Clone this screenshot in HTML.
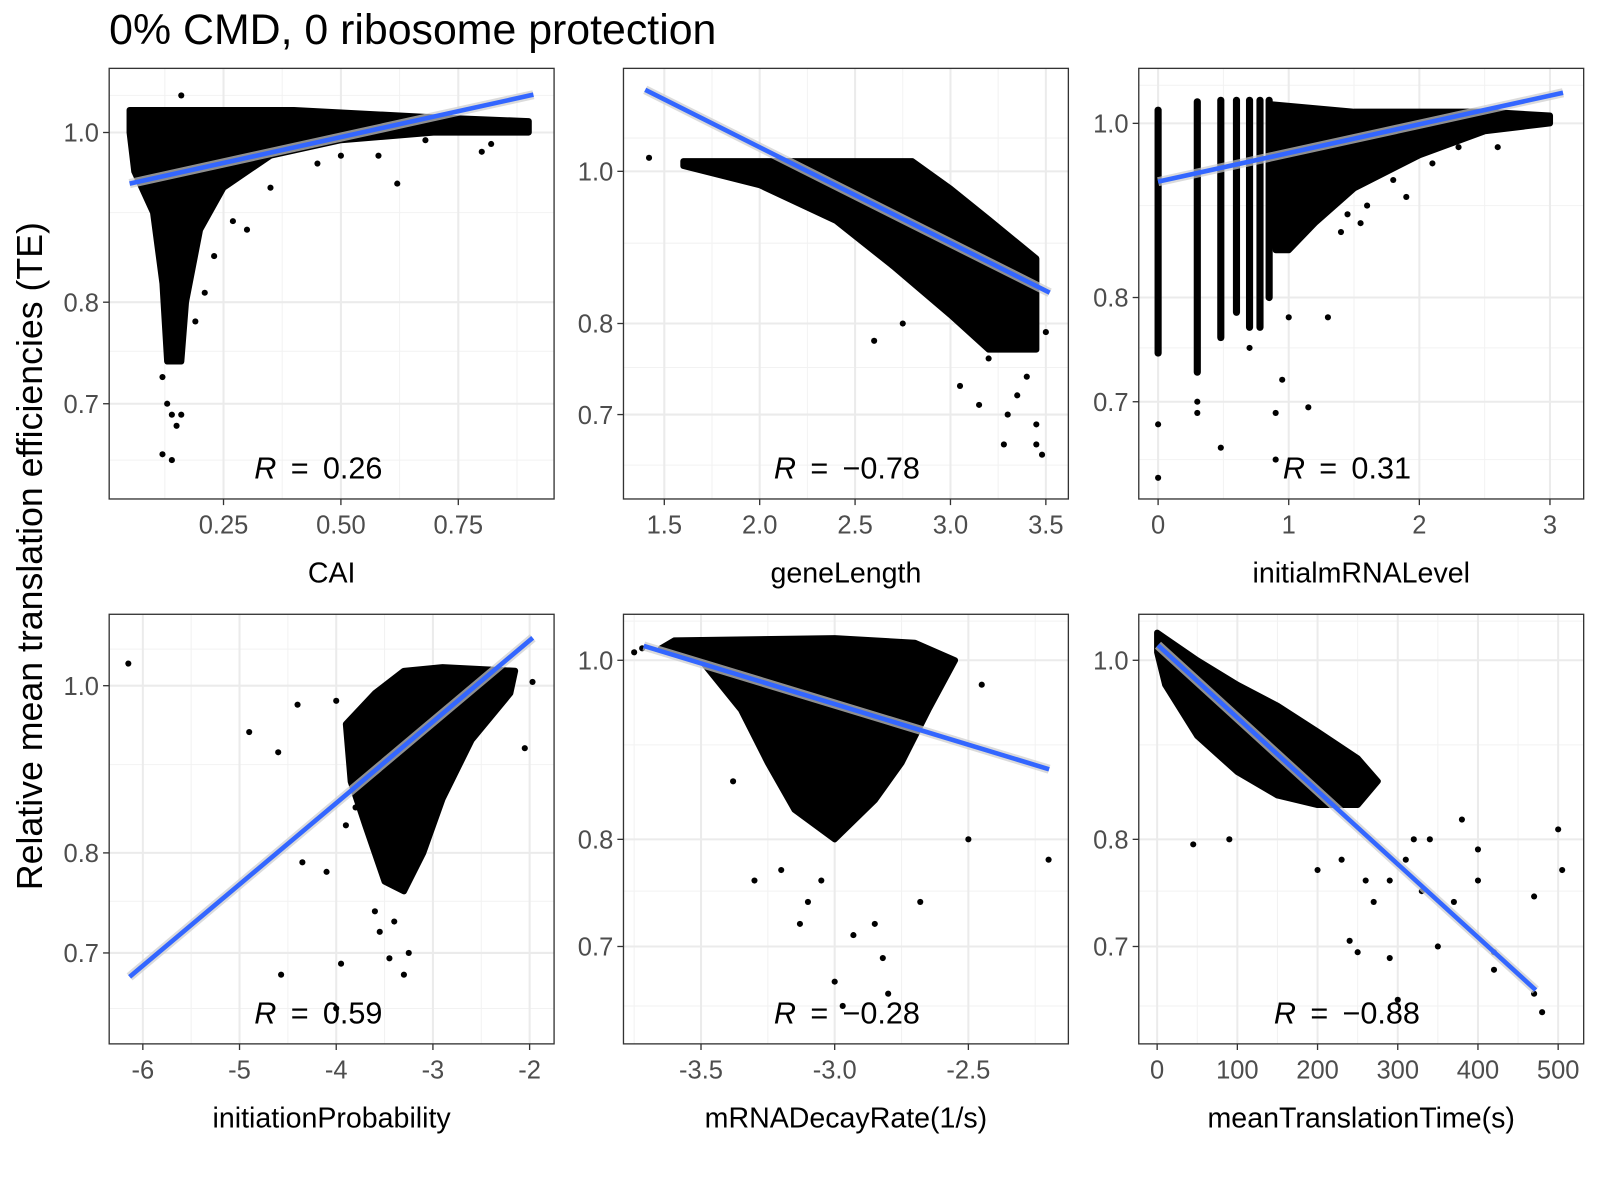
<!DOCTYPE html>
<html><head><meta charset="utf-8"><style>
html,body{margin:0;padding:0;background:#fff}
svg{display:block}
text{font-family:"Liberation Sans",sans-serif}
</style></head><body>
<svg id="chart" width="1600" height="1200" viewBox="0 0 1568 1176">
<rect x="0" y="0" width="1568" height="1176" fill="#fff"/>
<text x="107" y="43" font-size="42" fill="#000">0% CMD, 0 ribosome protection</text>
<text transform="translate(41,545) rotate(-90)" text-anchor="middle" font-size="35" fill="#000">Relative mean translation efficiencies (TE)</text>
</svg>
<script>
// ---- data ----
const panelNames = ["CAI","geneLength","initialmRNALevel","initiationProbability","mRNADecayRate(1/s)","meanTranslationTime(s)"];
const xDomains = [[0.0065,0.954],[1.286,3.618],[-0.148,3.258],[-6.348,-1.747],[-3.79,-2.126],[-22.9,531.8]];
const yDomains = [[0.6176,1.088],[0.6185,1.163],[0.618,1.073],[0.620,1.100],[0.620,1.059],[0.620,1.059]];
const xTicks = [[0.25,0.5,0.75],[1.5,2,2.5,3,3.5],[0,1,2,3],[-6,-5,-4,-3,-2],[-3.5,-3,-2.5],[0,100,200,300,400,500]];
const xTickLabels = [["0.25","0.50","0.75"],["1.5","2.0","2.5","3.0","3.5"],["0","1","2","3"],["-6","-5","-4","-3","-2"],["-3.5","-3.0","-2.5"],["0","100","200","300","400","500"]];
const yTicks = [0.7,0.8,1.0];
const yTickLabels = ["0.7","0.8","1.0"];
const yMinor = [0.65,0.75,0.9,1.05];
const rValues = ["0.26","\u22120.78","0.31","0.59","\u22120.28","\u22120.88"];
// regression line endpoints
const fitX = [[0.05,0.91],[1.4,3.52],[0,3.1],[-6.137,-1.968],[-3.714,-2.198],[1,472]];
const fitY = [[0.935,1.051],[1.127,0.837],[0.928,1.040],[0.678,1.066],[1.018,0.873],[1.019,0.663]];
// dense point clouds (outline of overlapping points)
const cloudX = [
 [0.05,0.4,0.7,0.9,0.9,0.7,0.5,0.35,0.25,0.2,0.17,0.16,0.13,0.12,0.1,0.06,0.05],
 [1.6,2.8,3.0,3.2,3.45,3.45,3.2,3.0,2.7,2.4,2.0,1.6],
 [0.85,1.5,2.5,3.0,3.0,2.5,2.0,1.5,1.2,1.0,0.9],
 [-3.9,-3.6,-3.3,-2.9,-2.15,-2.2,-2.6,-2.9,-3.1,-3.3,-3.5,-3.7,-3.85],
 [-3.6,-3.0,-2.7,-2.55,-2.65,-2.75,-2.85,-3.0,-3.15,-3.25,-3.35,-3.5,-3.65],
 [0,50,100,150,200,250,275,250,200,150,100,50,10,0]];
const cloudY = [
 [1.03,1.03,1.02,1.015,1.0,1.0,0.99,0.97,0.93,0.88,0.80,0.74,0.74,0.82,0.9,0.95,1.0],
 [1.015,1.015,0.975,0.932,0.88,0.77,0.77,0.81,0.87,0.93,0.98,1.008],
 [1.025,1.015,1.015,1.01,1.0,0.99,0.96,0.92,0.88,0.85,0.85],
 [0.95,0.99,1.02,1.025,1.02,0.99,0.93,0.86,0.80,0.76,0.77,0.83,0.88],
 [1.025,1.028,1.022,1.0,0.94,0.88,0.84,0.80,0.83,0.88,0.94,1.0,1.015],
 [1.035,1.0,0.97,0.945,0.915,0.885,0.86,0.835,0.835,0.845,0.87,0.91,0.97,1.01]];
// individual points
const ptX = [
 [0.13,0.14,0.12,0.14,0.16,0.12,0.3,0.35,0.62,0.82,0.8,0.45,0.21,0.23,0.27,0.58,0.5,0.16,0.68,0.19,0.15],
 [1.42,2.6,3.3,3.35,3.45,3.48,3.05,3.15,3.5,2.75,3.28,3.45,3.4,3.2,3.38,2.2,1.8],
 [0.48,0.9,1.15,0.95,1.0,2.6,1.9,1.6,1.55,1.45,1.4,2.3,2.9,1.3,0.9,0,0,0.3,0.3,0.7,1.8,2.1],
 [-6.15,-4.9,-4.4,-4.6,-4.0,-4.35,-4.1,-4.57,-3.95,-4.0,-3.3,-3.45,-3.25,-2.05,-1.97,-3.4,-3.9,-3.8,-3.55,-3.6],
 [-3.72,-3.75,-3.3,-3.13,-2.93,-3.0,-2.97,-2.82,-2.8,-2.68,-2.5,-2.2,-3.05,-3.2,-2.58,-2.65,-3.38,-2.85,-2.45,-3.1],
 [45,90,200,290,320,340,380,400,400,470,500,505,240,250,290,300,350,420,420,470,480,330,370,270,230,260,310]];
const ptY = [
 [0.70,0.69,0.655,0.65,0.69,0.725,0.88,0.93,0.935,0.985,0.975,0.96,0.81,0.85,0.89,0.97,0.97,1.05,0.99,0.78,0.68],
 [1.02,0.78,0.70,0.72,0.67,0.66,0.73,0.71,0.79,0.80,0.67,0.69,0.74,0.76,0.78,0.97,0.995],
 [0.66,0.69,0.695,0.72,0.78,0.97,0.91,0.9,0.88,0.89,0.87,0.97,1.01,0.78,0.65,0.68,0.635,0.69,0.70,0.75,0.93,0.95],
 [1.03,0.94,0.975,0.915,0.98,0.79,0.78,0.68,0.69,0.65,0.68,0.695,0.70,0.92,1.005,0.73,0.83,0.85,0.72,0.74],
 [1.015,1.01,0.76,0.72,0.71,0.67,0.65,0.69,0.66,0.74,0.80,0.78,0.76,0.77,1.0,0.98,0.86,0.72,0.97,0.74],
 [0.795,0.80,0.77,0.76,0.80,0.80,0.82,0.76,0.79,0.745,0.81,0.77,0.705,0.695,0.69,0.655,0.70,0.695,0.68,0.66,0.645,0.75,0.74,0.74,0.78,0.76,0.78]];
// vertical stripes for panel 3
const stripeX = [0,0.3,0.48,0.6,0.7,0.78,0.85];
const stripeTop = [1.017,1.028,1.03,1.03,1.03,1.03,1.03];
const stripeBot = [0.745,0.727,0.76,0.785,0.77,0.77,0.80];

// ---- layout ----
const colX = [[107,543],[611,1047],[1116,1552]];
const rowY = [[67,489],[602,1023]];
const NS = "http://www.w3.org/2000/svg";
const svg = document.getElementById('chart');
function mk(tag, attrs, parent){
  const e = document.createElementNS(NS, tag);
  for (const k in attrs) e.setAttribute(k, attrs[k]);
  (parent||svg).appendChild(e);
  return e;
}
for (let p=0;p<6;p++){
  const [L,R] = colX[p%3], [T,B] = rowY[Math.floor(p/3)];
  const [x0,x1] = xDomains[p], [y0,y1] = yDomains[p];
  const sx = v => L + (v-x0)/(x1-x0)*(R-L);
  const sy = v => B - (Math.log(v)-Math.log(y0))/(Math.log(y1)-Math.log(y0))*(B-T);
  const g = mk('g',{});
  
  
  mk('rect',{x:L,y:T,width:R-L,height:B-T,fill:'#fff'},g);
  const xt = xTicks[p];
  const step = xt[1]-xt[0];
  const minors = [];
  for (let v = xt[0]-step/2; v <= x1; v += step) if (v>=x0) minors.push(v);
  minors.forEach(v=>mk('line',{x1:sx(v),x2:sx(v),y1:T,y2:B,stroke:'#f2f2f2','stroke-width':1},g));
  yMinor.forEach(v=>{ if(v>y0&&v<y1) mk('line',{x1:L,x2:R,y1:sy(v),y2:sy(v),stroke:'#f2f2f2','stroke-width':1},g);});
  xt.forEach(v=>mk('line',{x1:sx(v),x2:sx(v),y1:T,y2:B,stroke:'#ebebeb','stroke-width':2},g));
  yTicks.forEach(v=>mk('line',{x1:L,x2:R,y1:sy(v),y2:sy(v),stroke:'#ebebeb','stroke-width':2},g));
  const cpts = cloudX[p].map((v,i)=>sx(v)+','+sy(cloudY[p][i])).join(' ');
  const cl = mk('polygon',{points:cpts,fill:'#000',stroke:'#000','stroke-width':6,'stroke-linejoin':'round'},g);
  
  
  if (p===2){
    stripeX.forEach((v,i)=>{
      const s = mk('line',{x1:sx(v),x2:sx(v),y1:sy(stripeTop[i]),y2:sy(stripeBot[i]),stroke:'#000','stroke-width':7,'stroke-linecap':'round'},g);
      
      
    });
  }
  ptX[p].forEach((v,i)=>{
    const c = mk('circle',{cx:sx(v),cy:sy(ptY[p][i]),r:3,fill:'#000'},g);
    
    
  });
  const fx = fitX[p], fy = fitY[p];
  mk('line',{x1:sx(fx[0]),y1:sy(fy[0]),x2:sx(fx[1]),y2:sy(fy[1]),stroke:'#cccccc','stroke-width':9,'stroke-opacity':0.7},g);
  const fl = mk('line',{x1:sx(fx[0]),y1:sy(fy[0]),x2:sx(fx[1]),y2:sy(fy[1]),stroke:'#3366ff','stroke-width':4.5},g);
  
  
  const cx = [312,830,1320][p%3];
  const rt = mk('text',{x:cx,y:B-20,'text-anchor':'middle','font-size':30,fill:'#000'},g);
  
  
  const ri = mk('tspan',{'font-style':'italic'},rt); ri.textContent='R';
  const re = mk('tspan',{dx:14},rt); re.textContent='=';
  const rr = mk('tspan',{dx:14},rt); rr.textContent = rValues[p];
  mk('rect',{x:L,y:T,width:R-L,height:B-T,fill:'none',stroke:'#333','stroke-width':1.3},g);
  xt.forEach((v,i)=>{
    mk('line',{x1:sx(v),x2:sx(v),y1:B,y2:B+6,stroke:'#333','stroke-width':1.3},g);
    const t = mk('text',{x:sx(v),y:B+34,'text-anchor':'middle','font-size':25,fill:'#4d4d4d'},g);
    
    
    t.textContent = xTickLabels[p][i];
  });
  yTicks.forEach((v,i)=>{
    mk('line',{x1:L-6,x2:L,y1:sy(v),y2:sy(v),stroke:'#333','stroke-width':1.3},g);
    const t = mk('text',{x:L-10,y:sy(v)+9,'text-anchor':'end','font-size':25,fill:'#4d4d4d'},g);
    
    
    t.textContent = yTickLabels[i];
  });
  const at = mk('text',{x:(L+R)/2,y:B+82,'text-anchor':'middle','font-size':28,fill:'#000'},g);
  
  
  at.textContent = panelNames[p];
}
</script>
</body></html>
